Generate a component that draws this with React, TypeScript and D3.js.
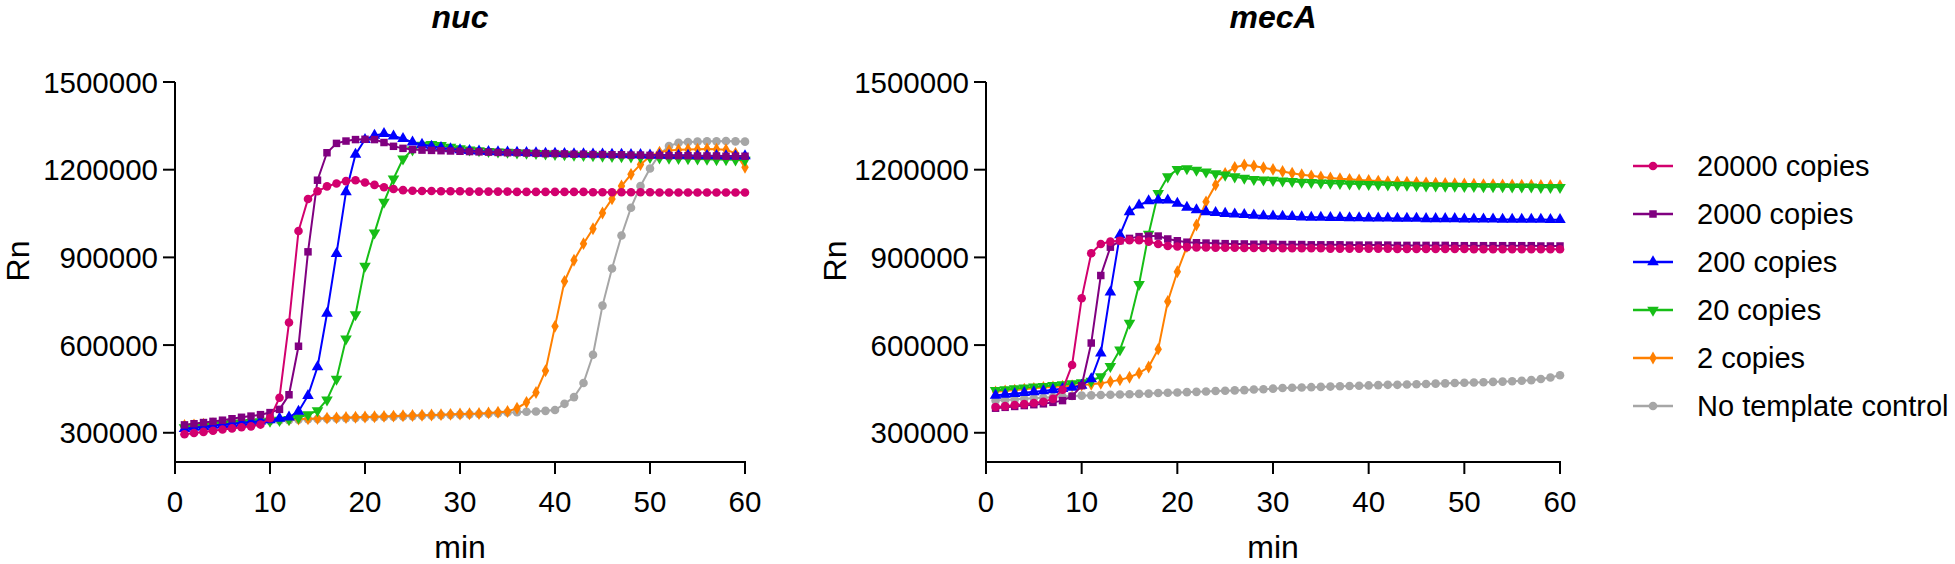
import React from 'react';
import * as d3 from 'd3';

const FONT = "'Liberation Sans', Arial, Helvetica, sans-serif";

const minutes = d3.range(1, 61);
const yTicks = [300000, 600000, 900000, 1200000, 1500000];
const xTicks = [0, 10, 20, 30, 40, 50, 60];

const seriesLabels = ['20000 copies', '2000 copies', '200 copies', '20 copies', '2 copies', 'No template control'];
const seriesColors = ['#D2006E', '#800080', '#0000FF', '#17BE17', '#FF8000', '#A6A6A6'];
const seriesSymbols = ['circle', 'square', 'triangleUp', 'triangleDown', 'diamond', 'circle'];

// nuc panel
const nuc20000 = [295000, 299000, 303000, 307000, 311000, 315000, 319000, 322000, 328000, 350000, 420000, 677000, 990000, 1100000, 1126000, 1143000, 1153000, 1161000, 1164000, 1156000, 1148000, 1140000, 1134000, 1130000, 1128000, 1127000, 1127000, 1126000, 1126000, 1126000, 1125000, 1125000, 1125000, 1125000, 1125000, 1124000, 1124000, 1124000, 1124000, 1124000, 1124000, 1124000, 1124000, 1123000, 1123000, 1123000, 1123000, 1123000, 1123000, 1123000, 1122000, 1122000, 1122000, 1122000, 1122000, 1122000, 1122000, 1122000, 1122000, 1122000];
const nuc2000 = [327000, 331000, 335000, 339000, 343000, 348000, 353000, 357000, 362000, 369000, 380000, 430000, 596000, 919000, 1164000, 1258000, 1290000, 1298000, 1303000, 1304000, 1303000, 1293000, 1280000, 1273000, 1269000, 1267000, 1266000, 1265000, 1264000, 1263000, 1262000, 1261000, 1260000, 1259000, 1258000, 1258000, 1257000, 1256000, 1255000, 1255000, 1254000, 1253000, 1253000, 1252000, 1252000, 1251000, 1251000, 1250000, 1250000, 1249000, 1249000, 1248000, 1248000, 1248000, 1247000, 1247000, 1247000, 1246000, 1246000, 1246000];
const nuc200 = [314000, 318000, 321000, 325000, 328000, 331000, 334000, 337000, 340000, 344000, 349000, 353000, 373000, 427000, 525000, 708000, 913000, 1124000, 1252000, 1303000, 1317000, 1323000, 1315000, 1306000, 1294000, 1286000, 1280000, 1275000, 1271000, 1268000, 1265000, 1263000, 1262000, 1261000, 1260000, 1259000, 1258000, 1257000, 1256000, 1256000, 1255000, 1254000, 1254000, 1253000, 1253000, 1252000, 1252000, 1251000, 1251000, 1250000, 1250000, 1249000, 1249000, 1249000, 1248000, 1248000, 1248000, 1247000, 1247000, 1247000];
const nuc20 = [318000, 321000, 324000, 327000, 329000, 332000, 334000, 336000, 338000, 340000, 343000, 346000, 352000, 362000, 376000, 413000, 484000, 621000, 704000, 870000, 984000, 1089000, 1169000, 1237000, 1268000, 1284000, 1287000, 1283000, 1277000, 1272000, 1268000, 1265000, 1263000, 1261000, 1260000, 1258000, 1257000, 1256000, 1254000, 1253000, 1252000, 1250000, 1249000, 1248000, 1247000, 1246000, 1245000, 1244000, 1243000, 1242000, 1241000, 1240000, 1239000, 1238000, 1237000, 1236000, 1235000, 1235000, 1234000, 1233000];
const nuc2 = [325000, 327000, 329000, 331000, 333000, 335000, 337000, 338000, 340000, 342000, 344000, 345000, 347000, 348000, 349000, 350000, 351000, 352000, 353000, 354000, 355000, 356000, 357000, 358000, 359000, 360000, 361000, 362000, 363000, 364000, 365000, 366000, 368000, 370000, 373000, 384000, 404000, 438000, 512000, 664000, 818000, 890000, 947000, 998000, 1052000, 1100000, 1144000, 1184000, 1218000, 1246000, 1260000, 1266000, 1268000, 1269000, 1270000, 1271000, 1270000, 1268000, 1256000, 1208000];
const nucNTC = [322000, 324000, 326000, 328000, 330000, 332000, 334000, 336000, 338000, 340000, 342000, 343000, 345000, 346000, 347000, 348000, 349000, 350000, 351000, 352000, 353000, 354000, 355000, 356000, 357000, 358000, 359000, 360000, 361000, 362000, 363000, 364000, 365000, 367000, 369500, 370000, 372000, 373000, 375000, 378000, 399000, 422000, 470000, 567000, 735000, 862000, 975000, 1070000, 1144000, 1204000, 1252000, 1281000, 1292000, 1295000, 1296000, 1297000, 1297000, 1298000, 1297000, 1296000];

// mecA panel
const mec20000 = [388000, 391000, 395000, 398000, 402000, 406000, 416000, 447000, 532000, 760000, 914000, 946000, 954000, 957000, 959000, 959000, 954000, 946000, 939000, 937000, 935000, 934000, 934000, 933000, 933000, 933000, 932000, 932000, 932000, 932000, 931000, 931000, 931000, 931000, 931000, 930000, 930000, 930000, 930000, 930000, 930000, 930000, 929000, 929000, 929000, 929000, 929000, 929000, 929000, 929000, 928000, 928000, 928000, 928000, 928000, 928000, 928000, 928000, 928000, 928000];
const mec2000 = [384000, 387000, 390000, 393000, 396000, 399000, 404000, 410000, 425000, 461000, 607000, 838000, 935000, 957000, 965000, 971000, 973000, 973000, 963000, 957000, 952000, 950000, 949000, 948000, 947000, 946000, 946000, 945000, 945000, 945000, 944000, 944000, 944000, 943000, 943000, 943000, 943000, 942000, 942000, 942000, 942000, 942000, 941000, 941000, 941000, 941000, 941000, 941000, 940000, 940000, 940000, 940000, 940000, 940000, 940000, 940000, 940000, 939000, 939000, 939000];
const mec200 = [428000, 431000, 434000, 437000, 440000, 443000, 447000, 451000, 455000, 462000, 484000, 572000, 781000, 977000, 1056000, 1079000, 1093000, 1096000, 1096000, 1085000, 1071000, 1062000, 1056000, 1053000, 1050000, 1048000, 1046000, 1044000, 1042000, 1041000, 1040000, 1039000, 1038000, 1037000, 1037000, 1036000, 1036000, 1035000, 1035000, 1034000, 1034000, 1034000, 1033000, 1033000, 1033000, 1032000, 1032000, 1032000, 1032000, 1031000, 1031000, 1031000, 1031000, 1030000, 1030000, 1030000, 1030000, 1030000, 1029000, 1029000];
const mec20 = [445000, 448000, 451000, 454000, 457000, 459000, 462000, 465000, 468000, 472000, 477000, 492000, 527000, 584000, 675000, 808000, 980000, 1119000, 1176000, 1201000, 1204000, 1199000, 1193000, 1187000, 1182000, 1176000, 1171000, 1167000, 1165000, 1164000, 1162000, 1160000, 1158000, 1157000, 1155000, 1154000, 1153000, 1152000, 1151000, 1150000, 1149000, 1148000, 1147000, 1147000, 1146000, 1145000, 1145000, 1144000, 1144000, 1143000, 1143000, 1142000, 1142000, 1142000, 1141000, 1141000, 1141000, 1140000, 1140000, 1140000];
const mec2 = [440000, 443000, 446000, 449000, 452000, 455000, 457000, 459000, 461000, 463000, 466000, 469000, 475000, 481000, 490000, 504000, 525000, 586000, 749000, 851000, 937000, 1011000, 1090000, 1148000, 1187000, 1208000, 1216000, 1213000, 1207000, 1201000, 1194000, 1188000, 1183000, 1179000, 1175000, 1172000, 1169000, 1167000, 1165000, 1163000, 1161000, 1159000, 1158000, 1157000, 1156000, 1155000, 1154000, 1153000, 1152000, 1151000, 1150000, 1149000, 1149000, 1148000, 1148000, 1147000, 1147000, 1146000, 1146000, 1145000];
const mecNTC = [410000, 412000, 414000, 416000, 418000, 420000, 422000, 424000, 426000, 427000, 428000, 429000, 430000, 431000, 432000, 433000, 434000, 436000, 437000, 438000, 439000, 440000, 441000, 443000, 444000, 445000, 446000, 448000, 449000, 451000, 453000, 454000, 455000, 456000, 457000, 458000, 459000, 460000, 461000, 462000, 463000, 464000, 464000, 465000, 466000, 467000, 468000, 469000, 470000, 471000, 472000, 473000, 474000, 475000, 476000, 478000, 480000, 484000, 489000, 497000];

const nucSeries = [nuc20000, nuc2000, nuc200, nuc20, nuc2, nucNTC];
const mecSeries = [mec20000, mec2000, mec200, mec20, mec2, mecNTC];

function symbolPath(kind: string): string {
  const gen = d3.symbol();
  if (kind === 'circle') return gen.type(d3.symbolCircle).size(58)() as string;
  if (kind === 'square') return gen.type(d3.symbolSquare).size(56)() as string;
  if (kind === 'diamond') return gen.type(d3.symbolDiamond).size(48)() as string;
  return gen.type(d3.symbolTriangle).size(58)() as string;
}

function Marker({ kind, color, cx, cy }: { kind: string; color: string; cx: number; cy: number }) {
  const rot = kind === 'triangleDown' ? ' rotate(180)' : '';
  return <path d={symbolPath(kind)} transform={`translate(${cx},${cy})${rot}`} fill={color} />;
}

function Panel({ title, data, left, right, rnX }: { title: string; data: number[][]; left: number; right: number; rnX: number }) {
  const top = 82;
  const bottom = 462;
  const x = d3.scaleLinear().domain([0, 60]).range([left, right]);
  const y = d3.scaleLinear().domain([200000, 1500000]).range([bottom, top]);
  const line = d3.line<number>().x((_, i) => x(minutes[i])).y((d) => y(d));
  const order = d3.range(data.length).reverse();
  return (
    <g>
      <text x={(left + right) / 2} y={28} textAnchor="middle" fontFamily={FONT} fontSize={32} fontWeight="bold" fontStyle="italic">{title}</text>
      {order.map((si) => (
        <g key={si}>
          <path d={line(data[si]) as string} fill="none" stroke={seriesColors[si]} strokeWidth={2} />
          {data[si].map((v, i) => (
            <Marker key={i} kind={seriesSymbols[si]} color={seriesColors[si]} cx={x(minutes[i])} cy={y(v)} />
          ))}
        </g>
      ))}
      <line x1={left} x2={left} y1={y(1500000)} y2={bottom + 1} stroke="#000" strokeWidth={2} />
      <line x1={left - 1} x2={right + 1} y1={bottom} y2={bottom} stroke="#000" strokeWidth={2} />
      {yTicks.map((t) => (
        <g key={t}>
          <line x1={left - 12} x2={left} y1={y(t)} y2={y(t)} stroke="#000" strokeWidth={2} />
          <text x={left - 17} y={y(t)} dy="0.36em" textAnchor="end" fontFamily={FONT} fontSize={29.5}>{t}</text>
        </g>
      ))}
      {xTicks.map((t) => (
        <g key={t}>
          <line x1={x(t)} x2={x(t)} y1={bottom} y2={bottom + 12} stroke="#000" strokeWidth={2} />
          <text x={x(t)} y={512} textAnchor="middle" fontFamily={FONT} fontSize={29.5}>{t}</text>
        </g>
      ))}
      <text x={(left + right) / 2} y={558} textAnchor="middle" fontFamily={FONT} fontSize={32}>min</text>
      <text transform={`translate(${rnX},261) rotate(-90)`} textAnchor="middle" dy="0.36em" fontFamily={FONT} fontSize={32}>Rn</text>
    </g>
  );
}

function Legend() {
  const lx0 = 1633;
  const lx1 = 1673;
  return (
    <g>
      {seriesLabels.map((lab, i) => {
        const yy = 166 + i * 48;
        return (
          <g key={lab}>
            <line x1={lx0} x2={lx1} y1={yy} y2={yy} stroke={seriesColors[i]} strokeWidth={2.5} />
            <Marker kind={seriesSymbols[i]} color={seriesColors[i]} cx={(lx0 + lx1) / 2} cy={yy} />
            <text x={1697} y={yy} dy="0.36em" fontFamily={FONT} fontSize={29}>{lab}</text>
          </g>
        );
      })}
    </g>
  );
}

export default function App() {
  return (
    <svg width={1955} height={564} style={{ position: 'absolute', left: 0, top: 0, background: '#fff' }}>
      <rect x={0} y={0} width={1955} height={564} fill="#fff" />
      <Panel title="nuc" data={nucSeries} left={175} right={745} rnX={17} />
      <Panel title="mecA" data={mecSeries} left={986} right={1560} rnX={834} />
      <Legend />
    </svg>
  );
}
